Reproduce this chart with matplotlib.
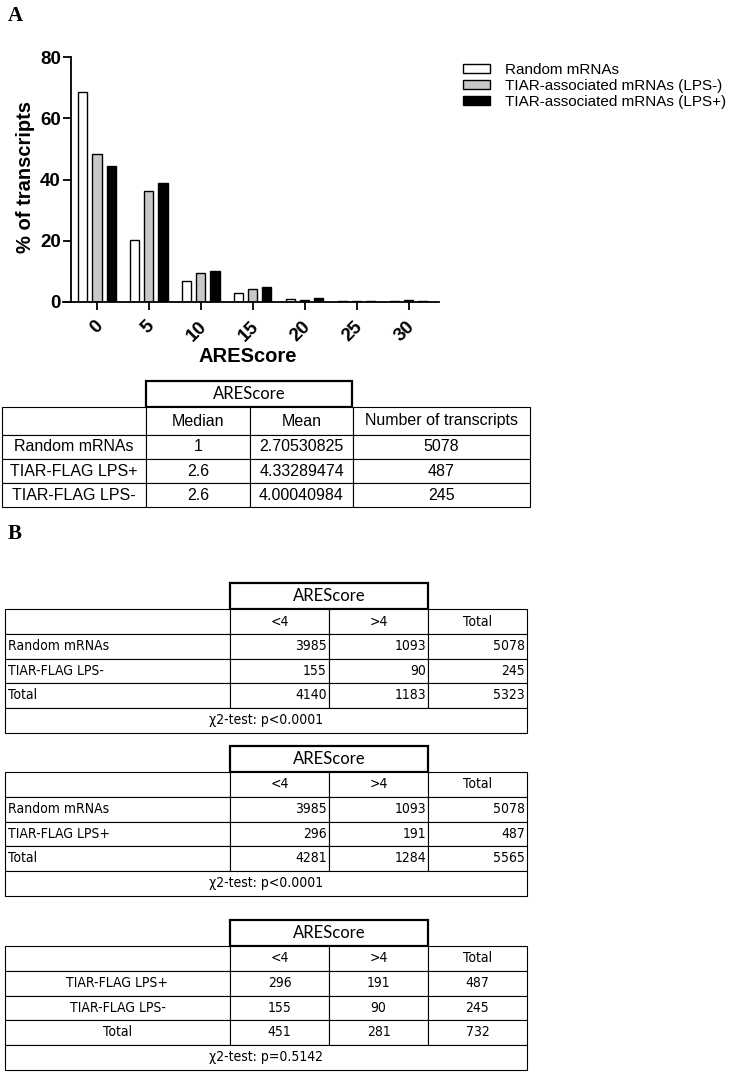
import matplotlib
matplotlib.use('Agg')
import matplotlib.pyplot as plt
from matplotlib import font_manager
from matplotlib.font_manager import FontProperties
from matplotlib.transforms import ScaledTranslation
import numpy as np

W, H, DPI = 745, 1072, 100

# ---------------- data ----------------
are_bins = [0, 5, 10, 15, 20, 25, 30]
series_labels = ['Random mRNAs', 'TIAR-associated mRNAs (LPS-)', 'TIAR-associated mRNAs (LPS+)']
random_pct = [68.5, 20.1, 6.9, 2.9, 1.0, 0.4, 0.3]
lps_minus_pct = [48.4, 36.1, 9.5, 4.1, 0.8, 0.4, 0.8]
lps_plus_pct = [44.4, 39.0, 10.1, 5.0, 1.3, 0.4, 0.4]
series_colors = ['white', '#c8c8c8', 'black']
y_ticks = [0, 20, 40, 60, 80]

header_label = 'AREScore'

tA_cols = ['', 'Median', 'Mean', 'Number of transcripts']
tA_rows = ['Random mRNAs', 'TIAR-FLAG LPS+', 'TIAR-FLAG LPS-']
tA_median = ['1', '2.6', '2.6']
tA_mean = ['2.70530825', '4.33289474', '4.00040984']
tA_n = ['5078', '487', '245']

tB_cols = ['', '<4', '>4', 'Total']

tB1_rows = ['Random mRNAs', 'TIAR-FLAG LPS-', 'Total']
tB1_lt4 = [3985, 155, 4140]
tB1_gt4 = [1093, 90, 1183]
tB1_total = [5078, 245, 5323]
tB1_test = 'χ2-test: p<0.0001'

tB2_rows = ['Random mRNAs', 'TIAR-FLAG LPS+', 'Total']
tB2_lt4 = [3985, 296, 4281]
tB2_gt4 = [1093, 191, 1284]
tB2_total = [5078, 487, 5565]
tB2_test = 'χ2-test: p<0.0001'

tB3_rows = ['TIAR-FLAG LPS+', 'TIAR-FLAG LPS-', 'Total']
tB3_lt4 = [296, 155, 451]
tB3_gt4 = [191, 90, 281]
tB3_total = [487, 245, 732]
tB3_test = 'χ2-test: p=0.5142'

# ---------------- fonts ----------------
plt.rcParams['font.family'] = ['Liberation Sans', 'DejaVu Sans']
narrow_fp = None
for key in ['LiberationSansNarrow-Regular', 'DejaVuSansCondensed.ttf', 'Condensed-Regular', 'Narrow']:
    for f in font_manager.fontManager.ttflist:
        fn = f.fname.replace('\\', '/').split('/')[-1]
        if key in fn and 'Bold' not in fn and 'Italic' not in fn and 'Oblique' not in fn:
            narrow_fp = f.fname
            break
    if narrow_fp:
        break
if narrow_fp is not None:
    narrow_size = 10.5 if 'Liberation' in narrow_fp else 10.0
    def narrow_props(size=None):
        return FontProperties(fname=narrow_fp, size=size or narrow_size)
else:
    narrow_size = 9.8
    def narrow_props(size=None):
        return FontProperties(family=['Liberation Sans', 'DejaVu Sans'], size=size or narrow_size)
regular_props = lambda size: FontProperties(family=['Liberation Sans', 'DejaVu Sans'], size=size)
head_props = lambda size: FontProperties(family=['Lato', 'Liberation Sans'], size=size)

fig = plt.figure(figsize=(W / DPI, H / DPI), dpi=DPI)

# ---------------- panel letters ----------------
fig.text(8 / W, 1 - 16 / H, 'A', family='Liberation Serif', weight='bold', fontsize=15, ha='left', va='center')
fig.text(8 / W, 1 - 534 / H, 'B', family='Liberation Serif', weight='bold', fontsize=15, ha='left', va='center')

# ---------------- bar chart ----------------
ax = fig.add_axes([63 / W, 1 - 302 / H, (439 - 63) / W, (302 - 57) / H])
x = np.array(are_bins, dtype=float)
offset, bw = 1.35, 0.87
handles = []
for i, (vals, col, lab) in enumerate(zip([random_pct, lps_minus_pct, lps_plus_pct], series_colors, series_labels)):
    b = ax.bar(x + (i - 1) * offset, vals, width=bw, color=col, edgecolor='black', linewidth=1.0, label=lab, zorder=2)
    handles.append(b)
ax.set_xlim(-3.27, 32.9)
ax.set_ylim(0, 80)
for s in ['top', 'right']:
    ax.spines[s].set_visible(False)
ax.spines['left'].set_position(('data', -2.5))
ax.spines['left'].set_bounds(0, 80)
for s in ['left', 'bottom']:
    ax.spines[s].set_linewidth(1.3)
ax.set_xticks(are_bins)
ax.set_yticks(y_ticks)
ax.tick_params(direction='out', length=5.8, width=1.3, labelsize=13.5)
ax.tick_params(axis='x', pad=10)
ax.tick_params(axis='y', pad=1.5)
for lbl in ax.get_yticklabels():
    lbl.set_fontweight('bold')
shift = ScaledTranslation(3 / DPI, 0, fig.dpi_scale_trans)
for lbl in ax.get_xticklabels():
    lbl.set_rotation(45)
    lbl.set_ha('right')
    lbl.set_va('center')
    lbl.set_rotation_mode('anchor')
    lbl.set_fontweight('bold')
    lbl.set_transform(lbl.get_transform() + shift)
ax.set_ylabel('% of transcripts', fontsize=14.5, fontweight='bold', va='center')
ax.yaxis.set_label_coords((26 - 63) / 376, (302 - 177) / 245)
ax.set_xlabel('AREScore', fontsize=14.5, fontweight='bold', va='center')
ax.xaxis.set_label_coords((248 - 63) / 376, (302 - 357) / 245)

ax.legend(handles=handles, loc='upper left', bbox_to_anchor=(463 / W, 1 - 63 / H),
          bbox_transform=fig.transFigure, frameon=False, fontsize=11,
          handlelength=1.77, handleheight=0.55, handletextpad=0.95,
          labelspacing=0.12, borderpad=0, borderaxespad=0)

# ---------------- tables ----------------
tax = fig.add_axes([0, 0, 1, 1], zorder=-1)
tax.set_xlim(0, 1)
tax.set_ylim(0, 1)
tax.axis('off')


def bbox_px(x0, y0, x1, y1):
    return [x0 / W, 1 - y1 / H, (x1 - x0) / W, (y1 - y0) / H]


def grid_table(cells, x_edges, y_edges, props, aligns, lw=0.8):
    widths = np.diff(x_edges)
    heights = np.diff(y_edges)
    tb = tax.table(cellText=cells, colWidths=list(widths / widths.sum()),
                   bbox=bbox_px(x_edges[0], y_edges[0], x_edges[-1], y_edges[-1]),
                   cellLoc='center')
    tb.auto_set_font_size(False)
    for (r, c), cell in tb.get_celld().items():
        cell.set_height(heights[r] / heights.sum())
        cell.set_linewidth(lw)
        cell.set_edgecolor('black')
        t = cell.get_text()
        t.set_fontproperties(props())
        al = aligns[r][c]
        t.set_ha(al)
        if al == 'left':
            cell.PAD = 3.0 / widths[c]
        elif al == 'right':
            cell.PAD = 2.0 / widths[c]
    return tb


def single_box(text, x0, y0, x1, y1, props, lw):
    tb = tax.table(cellText=[[text]], colWidths=[1.0], bbox=bbox_px(x0, y0, x1, y1), cellLoc='center')
    tb.auto_set_font_size(False)
    cell = tb.get_celld()[(0, 0)]
    cell.set_linewidth(lw)
    cell.set_edgecolor('black')
    cell.get_text().set_fontproperties(props)
    return tb


# Table A
single_box(header_label, 146, 381, 352, 407, head_props(12), 1.6)
cellsA = [tA_cols] + [[r, m, mu, n] for r, m, mu, n in zip(tA_rows, tA_median, tA_mean, tA_n)]
grid_table(cellsA, np.array([2, 146, 250, 353, 530]), np.array([407, 435, 459, 483, 507]),
           lambda: regular_props(11.5), [['center'] * 4] * 4)


def b_table(rows, lt4, gt4, tot, test, top, centered):
    hdr_bot = top + 26
    ys = np.array([hdr_bot, hdr_bot + 25, hdr_bot + 49.5, hdr_bot + 74, hdr_bot + 98.5])
    single_box(header_label, 230, top, 428, hdr_bot, head_props(12), 1.6)
    cells = [tB_cols] + [[r, str(a), str(b), str(t)] for r, a, b, t in zip(rows, lt4, gt4, tot)]
    if centered:
        aligns = [['center'] * 4] * 4
    else:
        aligns = [['center'] * 4] + [['left', 'right', 'right', 'right']] * 3
    grid_table(cells, np.array([5, 230, 329, 428, 527]), ys, narrow_props, aligns)
    single_box(test, 5, ys[-1], 527, ys[-1] + 25, narrow_props(), 0.8)


b_table(tB1_rows, tB1_lt4, tB1_gt4, tB1_total, tB1_test, 583, False)
b_table(tB2_rows, tB2_lt4, tB2_gt4, tB2_total, tB2_test, 746, False)
b_table(tB3_rows, tB3_lt4, tB3_gt4, tB3_total, tB3_test, 920, True)

fig.savefig('out.png', dpi=DPI)
